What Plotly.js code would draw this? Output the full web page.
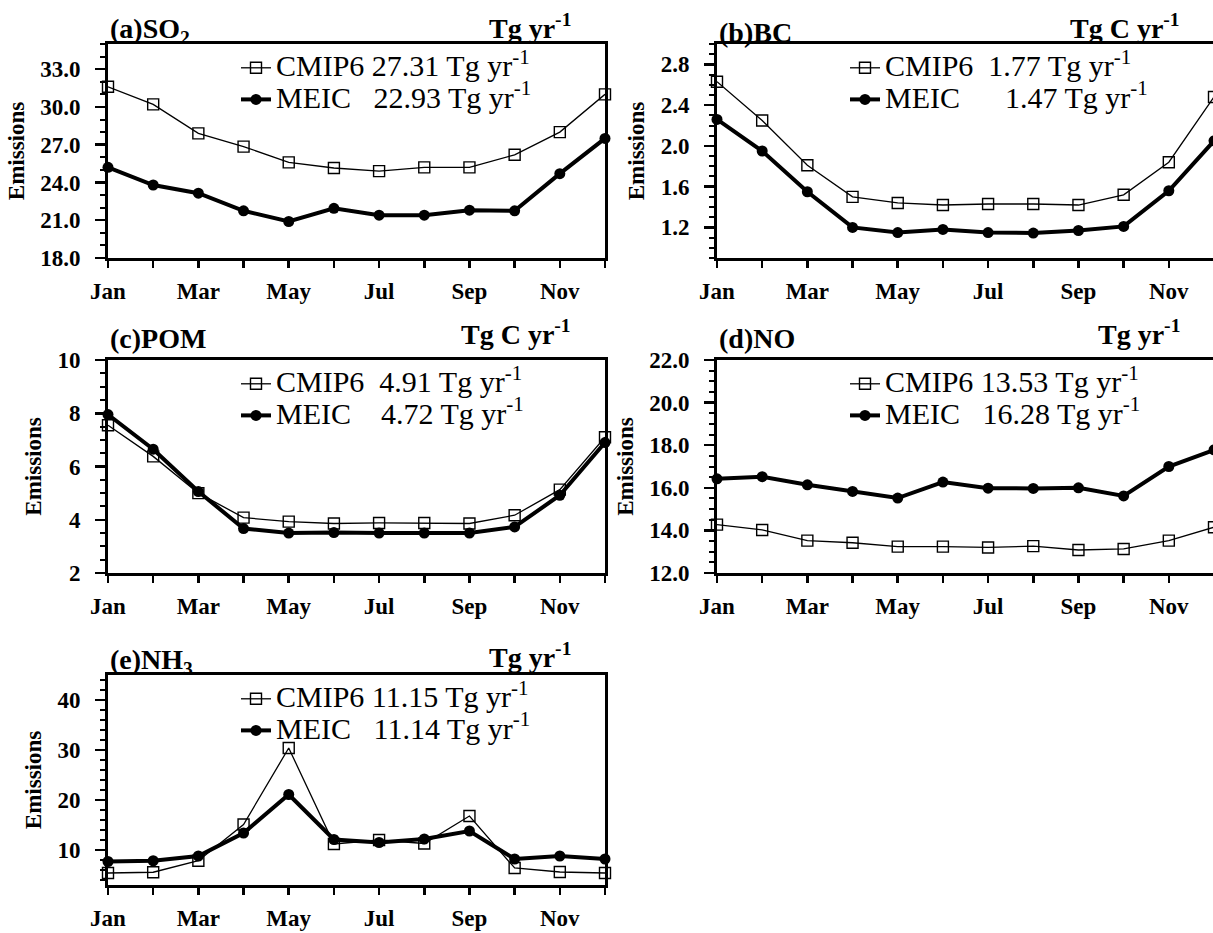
<!DOCTYPE html>
<html><head><meta charset="utf-8">
<script src="https://cdn.plot.ly/plotly-3.0.1.min.js"></script>
<style>html,body{margin:0;padding:0;overflow:hidden;background:#fff}</style>
</head><body><div id="chart"></div>
<script>
// ---- data ----
const months = ['Jan','Feb','Mar','Apr','May','Jun','Jul','Aug','Sep','Oct','Nov','Dec'];
const monthLabels = ['Jan','','Mar','','May','','Jul','','Sep','','Nov',''];

const so2_cmip6 = [31.6, 30.2, 27.9, 26.85, 25.6, 25.15, 24.9, 25.2, 25.2, 26.2, 28.0, 31.0];
const so2_meic  = [25.2, 23.8, 23.15, 21.75, 20.9, 21.95, 21.4, 21.4, 21.8, 21.75, 24.7, 27.5];
const bc_cmip6  = [2.63, 2.25, 1.81, 1.50, 1.44, 1.42, 1.43, 1.43, 1.42, 1.52, 1.84, 2.48];
const bc_meic   = [2.26, 1.95, 1.55, 1.20, 1.15, 1.18, 1.15, 1.145, 1.17, 1.21, 1.56, 2.05];
const pom_cmip6 = [7.55, 6.38, 5.0, 4.08, 3.93, 3.86, 3.88, 3.88, 3.86, 4.17, 5.13, 7.1];
const pom_meic  = [7.95, 6.65, 5.06, 3.67, 3.5, 3.52, 3.5, 3.5, 3.5, 3.73, 4.92, 6.9];
const no_cmip6  = [14.27, 14.02, 13.52, 13.42, 13.24, 13.24, 13.2, 13.26, 13.08, 13.13, 13.52, 14.15];
const no_meic   = [16.42, 16.52, 16.14, 15.83, 15.52, 16.27, 15.98, 15.97, 16.0, 15.62, 17.0, 17.78];
const nh3_cmip6 = [5.4, 5.55, 7.85, 15.1, 30.4, 11.2, 12.0, 11.3, 16.8, 6.4, 5.6, 5.4];
const nh3_meic  = [7.7, 7.85, 8.8, 13.4, 21.1, 12.1, 11.5, 12.2, 13.8, 8.2, 8.8, 8.2];

const panelTitles = ['(a)SO<sub>2</sub>', '(b)BC', '(c)POM', '(d)NO', '(e)NH<sub>3</sub>'];
const unitLabels  = ['Tg yr<sup>-1</sup>', 'Tg C yr<sup>-1</sup>', 'Tg C yr<sup>-1</sup>', 'Tg yr<sup>-1</sup>', 'Tg yr<sup>-1</sup>'];
const cmip6Totals = ['27.31', '1.77', '4.91', '13.53', '11.15'];
const meicTotals  = ['22.93', '1.47', '4.72', '16.28', '11.14'];
const seriesNames = ['CMIP6', 'MEIC'];
const yTitle = 'Emissions';

// ---- layout helpers ----
const W = 1222, H = 933;
const cmipSeries = [so2_cmip6, bc_cmip6, pom_cmip6, no_cmip6, nh3_cmip6];
const meicSeries = [so2_meic, bc_meic, pom_meic, no_meic, nh3_meic];
const nbsp = '\u00a0';
const cmipGap = [1, 2, 2, 1, 1];
const meicGap = [3, 6, 4, 3, 3];

const colX = [[108, 605], [717, 1214]];
const rowY = [[44, 258], [360, 573], [675, 885]];
const titleShift = [-6, 4, -6];
const unitShift = [-2, 8, 0];
const cells = [[0,0],[0,1],[1,0],[1,1],[2,0]];

const yAxisCfg = [
  {range:[18,35], tick0:18, dtick:3, minor:1, fmt:'.1f'},
  {range:[0.9,3.0], tick0:0.4, dtick:0.4, minor:0.1, fmt:'.1f'},
  {range:[2,10], tick0:2, dtick:2, minor:0.5, fmt:'d'},
  {range:[12,22], tick0:12, dtick:2, minor:0.5, fmt:'.1f'},
  {range:[3,45], tick0:0, dtick:10, minor:2, fmt:'d'}
];

const serif = 'Liberation Serif, Times New Roman, serif';
const tickFont = {family: serif, size: 23, color: '#000', weight: 'bold'};
const legendText = s => '<span style="font-size:30px">' + s + '</span>';

const traces = [];
const layout = {
  width: W, height: H,
  margin: {l:0, r:0, t:0, b:0},
  paper_bgcolor: '#fff', plot_bgcolor: '#fff',
  showlegend: true,
  annotations: []
};

cells.forEach((cell, i) => {
  const n = i + 1;
  const sfx = n === 1 ? '' : String(n);
  const [r, c] = cell;
  const xd = [colX[c][0] / W, colX[c][1] / W];
  const yd = [(H - rowY[r][1]) / H, (H - rowY[r][0]) / H];
  const legName = 'legend' + sfx;

  traces.push({
    x: months, y: cmipSeries[i], xaxis: 'x' + sfx, yaxis: 'y' + sfx,
    type: 'scatter', mode: 'lines+markers', cliponaxis: false,
    name: legendText(seriesNames[0] + nbsp.repeat(cmipGap[i]) + cmip6Totals[i] + ' Tg yr<sup>-1</sup>'),
    line: {color: '#000', width: 1.3},
    marker: {symbol: 'square-open', size: 11, color: '#000', line: {width: 1.4, color: '#000'}},
    legend: legName
  });
  traces.push({
    x: months, y: meicSeries[i], xaxis: 'x' + sfx, yaxis: 'y' + sfx,
    type: 'scatter', mode: 'lines+markers', cliponaxis: false,
    name: legendText(seriesNames[1] + nbsp.repeat(meicGap[i]) + meicTotals[i] + ' Tg yr<sup>-1</sup>'),
    line: {color: '#000', width: 4},
    marker: {symbol: 'circle', size: 11, color: '#000'},
    legend: legName
  });

  const yc = yAxisCfg[i];
  layout['xaxis' + sfx] = {
    domain: xd, anchor: 'y' + sfx, type: 'category',
    range: [0, 11], tickmode: 'array', tickvals: months, ticktext: monthLabels,
    ticks: 'outside', ticklen: 7, tickwidth: 2.5, tickcolor: '#000',
    showline: true, linewidth: 3, linecolor: '#000', mirror: true,
    showgrid: false, zeroline: false, tickfont: tickFont, ticklabelstandoff: 3,
    fixedrange: true
  };
  layout['yaxis' + sfx] = {
    domain: yd, anchor: 'x' + sfx, range: yc.range,
    tick0: yc.tick0, dtick: yc.dtick, tickformat: yc.fmt,
    ticks: 'outside', ticklen: 10, tickwidth: 2.5, tickcolor: '#000',
    minor: {dtick: yc.minor, ticks: 'outside', ticklen: 5, tickwidth: 2, tickcolor: '#000', showgrid: false},
    showline: true, linewidth: 3, linecolor: '#000', mirror: true,
    showgrid: false, zeroline: false, tickfont: tickFont, ticklabelstandoff: 10,
    title: {text: yTitle, font: {family: serif, size: 23, color: '#000', weight: 'bold'}, standoff: 10},
    fixedrange: true
  };
  layout[legName] = {
    x: xd[0] + 128 / W, y: yd[1] - 3 / H, xanchor: 'left', yanchor: 'top',
    bgcolor: 'rgba(0,0,0,0)', borderwidth: 0,
    font: {family: serif, size: 22, color: '#000'},
    itemwidth: 30, tracegroupgap: 0
  };
  layout.annotations.push({
    xref: 'x' + sfx + ' domain', yref: 'y' + sfx + ' domain', x: 0, y: 1,
    xanchor: 'left', yanchor: 'bottom', yshift: titleShift[r], showarrow: false,
    text: panelTitles[i], font: {family: serif, size: 28, color: '#000', weight: 'bold'}
  });
  layout.annotations.push({
    xref: 'x' + sfx + ' domain', yref: 'y' + sfx + ' domain', x: 0.935, y: 1,
    xanchor: 'right', yanchor: 'bottom', yshift: unitShift[r], showarrow: false,
    text: unitLabels[i], font: {family: serif, size: 28, color: '#000', weight: 'bold'}
  });
});

Plotly.newPlot('chart', traces, layout, {displayModeBar: false, staticPlot: true});
</script>
</body></html>
